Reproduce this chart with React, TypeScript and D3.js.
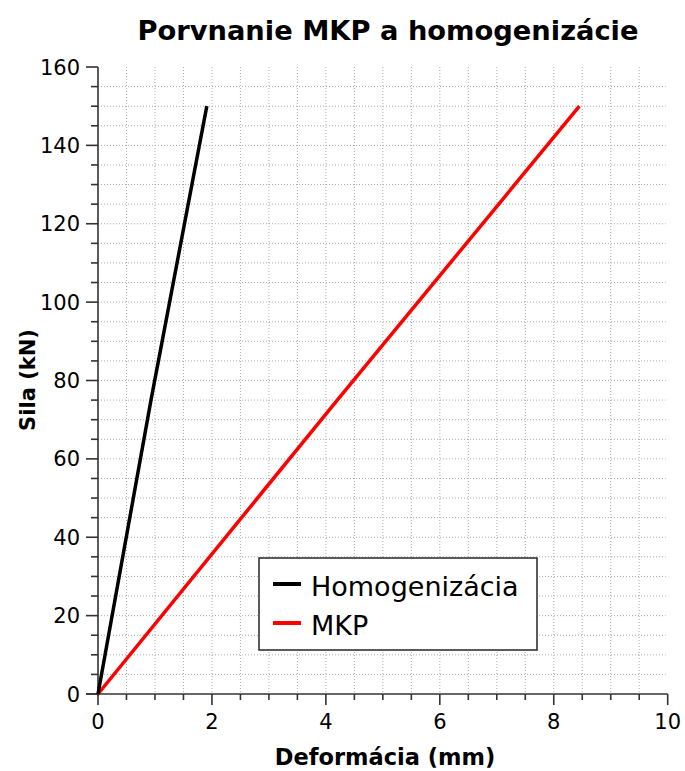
import React from "react";
import * as d3 from "d3";

const homX = [0, 0.93, 1.91];
const homY = [0, 75, 150];
const mkpX = [0, 4.2, 8.45];
const mkpY = [0, 75, 150];
const xTicks = [0, 2, 4, 6, 8, 10];
const yTicks = [0, 20, 40, 60, 80, 100, 120, 140, 160];
const seriesNames = ["Homogenizácia", "MKP"];
const title = "Porvnanie MKP a homogenizácie";
const xLabel = "Deformácia (mm)";
const yLabel = "Sila (kN)";

const FONT = "'DejaVu Sans', Verdana, sans-serif";

export default function App() {
  const L = 98, R = 667.7, T = 67, B = 694;
  const x = d3.scaleLinear().domain([0, 10]).range([L, R]);
  const y = d3.scaleLinear().domain([0, 160]).range([B, T]);
  const line = d3.line<[number, number]>().x((d) => x(d[0])).y((d) => y(d[1]));
  const hom = homX.map((v, i) => [v, homY[i]] as [number, number]);
  const mkp = mkpX.map((v, i) => [v, mkpY[i]] as [number, number]);
  const xMinor = d3.range(0, 10.001, 0.5);
  const yMinor = d3.range(0, 160.001, 5);
  const xGrid = xMinor.filter((v) => v > 0 && v < 10);
  const yGrid = yMinor.filter((v) => v > 0 && v < 160);

  return (
    <svg width={685} height={771} style={{ position: "absolute", left: 0, top: 0, background: "#fff" }} fontFamily={FONT}>
      <rect x={0} y={0} width={685} height={771} fill="#fff" />
      <text x={388} y={40} textAnchor="middle" fontSize={27.3} fontWeight="bold" fill="#000">{title}</text>
      {xGrid.map((v) => (
        <line key={"gx" + v} x1={x(v)} x2={x(v)} y1={T} y2={B} stroke="#aaa" strokeWidth={1} strokeDasharray="1,2" />
      ))}
      {yGrid.map((v) => (
        <line key={"gy" + v} x1={L} x2={R - 2} y1={y(v)} y2={y(v)} stroke="#aaa" strokeWidth={1} strokeDasharray="1,2" />
      ))}
      <line x1={L} x2={L} y1={T} y2={B + 2} stroke="#333" strokeWidth={1.6} />
      <line x1={L - 12} x2={R} y1={B} y2={B} stroke="#333" strokeWidth={1.6} />
      {yMinor.map((v) => (
        <line key={"ty" + v} x1={L - (v % 20 === 0 ? 12 : 7)} x2={L} y1={y(v)} y2={y(v)} stroke="#333" strokeWidth={1.6} />
      ))}
      {xMinor.map((v) => (
        <line key={"tx" + v} x1={x(v)} x2={x(v)} y1={B} y2={B + (v % 2 === 0 ? 11 : 6)} stroke="#333" strokeWidth={1.6} />
      ))}
      {yTicks.map((v) => (
        <text key={"ly" + v} x={80} y={y(v)} dy="0.36em" textAnchor="end" fontSize={21} fill="#000">{v}</text>
      ))}
      {xTicks.map((v) => (
        <text key={"lx" + v} x={x(v)} y={729} textAnchor="middle" fontSize={21} fill="#000">{v}</text>
      ))}
      <text x={385} y={765} textAnchor="middle" fontSize={22.5} fontWeight="bold" fill="#000">{xLabel}</text>
      <text transform={`translate(35,380) rotate(-90)`} textAnchor="middle" fontSize={21} fontWeight="bold" fill="#000">{yLabel}</text>
      <path d={line(mkp) || ""} fill="none" stroke="#ff0000" strokeWidth={3.5} />
      <path d={line(hom) || ""} fill="none" stroke="#000" strokeWidth={3.5} />
      <rect x={259} y={558} width={278} height={92} fill="#fff" stroke="#333" strokeWidth={1.6} />
      <line x1={273} x2={301} y1={584} y2={584} stroke="#000" strokeWidth={4} />
      <line x1={273} x2={301} y1={623} y2={623} stroke="#ff0000" strokeWidth={4} />
      <text x={311} y={596} fontSize={27} fill="#000">{seriesNames[0]}</text>
      <text x={311} y={635} fontSize={27} fill="#000">{seriesNames[1]}</text>
    </svg>
  );
}
